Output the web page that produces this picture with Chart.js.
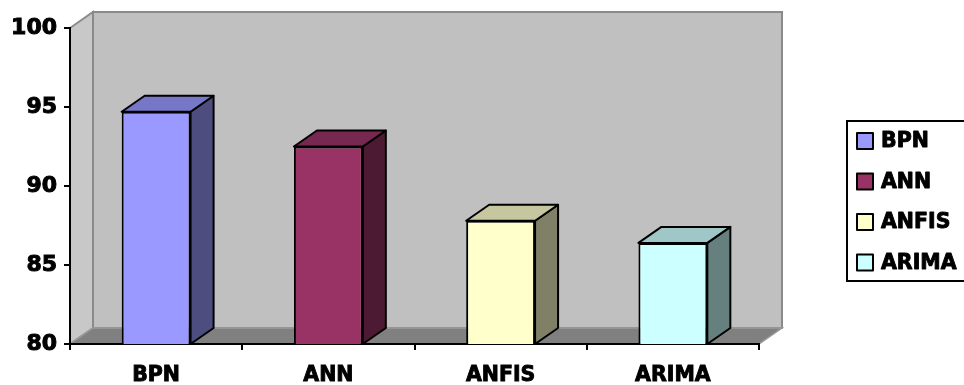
<!DOCTYPE html>
<html>
<head>
<meta charset="utf-8">
<script src="https://cdn.jsdelivr.net/npm/chart.js@4"></script>
<style>
  html, body { margin: 0; padding: 0; background: #ffffff; }
  #wrap { width: 964px; height: 385px; position: relative; }
</style>
</head>
<body>
<div id="wrap"><canvas id="chart" width="964" height="385"></canvas></div>
<script>
// Forecast accuracy per model
const categories = ['BPN', 'ANN', 'ANFIS', 'ARIMA'];
const accuracy = [94.7, 92.5, 87.8, 86.4];
const yTickValues = [80, 85, 90, 95, 100];

// Face colours of each column
const frontColors = ['#9999FF', '#993366', '#FFFFCC', '#CCFFFF'];

const FONT = "'DejaVu Sans', Verdana, sans-serif";
const DEPTH_X = 23;   // horizontal shift of the 3D depth
const DEPTH_Y = 16;   // vertical shift of the 3D depth

function shade(hex, f) {
  const n = parseInt(hex.slice(1), 16);
  const r = Math.round(((n >> 16) & 255) * f);
  const g = Math.round(((n >> 8) & 255) * f);
  const b = Math.round((n & 255) * f);
  return `rgb(${r},${g},${b})`;
}

function poly(ctx, pts, fill, stroke, lw) {
  ctx.beginPath();
  ctx.moveTo(pts[0][0], pts[0][1]);
  for (let i = 1; i < pts.length; i++) ctx.lineTo(pts[i][0], pts[i][1]);
  ctx.closePath();
  if (fill) { ctx.fillStyle = fill; ctx.fill(); }
  if (stroke) { ctx.strokeStyle = stroke; ctx.lineWidth = lw; ctx.stroke(); }
}

// Walls and floor of the 3D box, drawn beneath the axes
const box3d = {
  id: 'box3d',
  beforeDraw(chart) {
    const { ctx, chartArea: { left, right, top, bottom } } = chart;
    ctx.save();
    ctx.lineJoin = 'miter';
    // side wall
    poly(ctx, [[left, top], [left + DEPTH_X, top - DEPTH_Y], [left + DEPTH_X, bottom - DEPTH_Y], [left, bottom]],
      '#C8C8C8', '#8C8C8C', 2);
    // back wall
    poly(ctx, [[left + DEPTH_X, top - DEPTH_Y], [right + DEPTH_X, top - DEPTH_Y],
               [right + DEPTH_X, bottom - DEPTH_Y], [left + DEPTH_X, bottom - DEPTH_Y]],
      '#C0C0C0', '#8A8A8A', 2);
    // floor
    poly(ctx, [[left, bottom], [right, bottom], [right + DEPTH_X, bottom - DEPTH_Y], [left + DEPTH_X, bottom - DEPTH_Y]],
      '#808080', '#9A9A9A', 1.5);
    ctx.restore();
  },
  // top and side faces of every column
  afterDatasetsDraw(chart) {
    const { ctx, chartArea } = chart;
    const meta = chart.getDatasetMeta(0);
    ctx.save();
    ctx.lineJoin = 'round';
    meta.data.forEach((bar, i) => {
      const p = bar.getProps(['x', 'y', 'base', 'width'], true);
      const l = p.x - p.width / 2, r = p.x + p.width / 2;
      const t = p.y, b = Math.min(p.base, chartArea.bottom);
      const c = frontColors[i];
      poly(ctx, [[r, t], [r + DEPTH_X, t - DEPTH_Y], [r + DEPTH_X, b - DEPTH_Y], [r, b]], shade(c, 0.5), '#000', 2);
      poly(ctx, [[l, t], [l + DEPTH_X, t - DEPTH_Y], [r + DEPTH_X, t - DEPTH_Y], [r, t]], shade(c, 0.78), '#000', 2);
    });
    ctx.restore();
  },
  // boxed legend on the right
  afterDraw(chart) {
    const { ctx } = chart;
    ctx.save();
    ctx.strokeStyle = '#000';
    ctx.lineWidth = 2;
    ctx.strokeRect(847, 121, 140, 160);
    ctx.font = `bold 20.5px ${FONT}`;
    ctx.textBaseline = 'middle';
    ctx.textAlign = 'left';
    ctx.lineJoin = 'round';
    categories.forEach((name, i) => {
      const cy = 141 + i * 40.5;
      ctx.fillStyle = frontColors[i];
      ctx.fillRect(857, cy - 8, 16, 16);
      ctx.strokeStyle = '#000';
      ctx.lineWidth = 2;
      ctx.strokeRect(857, cy - 8, 16, 16);
      ctx.fillStyle = '#000';
      ctx.lineWidth = 0.9;
      ctx.strokeText(name, 881, cy + 1);
      ctx.fillText(name, 881, cy + 1);
    });
    ctx.restore();
  }
};

new Chart(document.getElementById('chart'), {
  type: 'bar',
  data: {
    labels: categories,
    datasets: [{
      data: accuracy,
      backgroundColor: frontColors,
      borderColor: '#000000',
      borderWidth: 2,
      borderSkipped: false,
      barPercentage: 0.4,
      categoryPercentage: 1.0
    }]
  },
  options: {
    responsive: false,
    animation: false,
    devicePixelRatio: 1,
    layout: { padding: { top: 28, right: 205, left: 0, bottom: 0 } },
    plugins: { legend: { display: false }, tooltip: { enabled: false } },
    scales: {
      x: {
        afterFit(scale) { scale.height = 41; },
        grid: {
          display: true, drawOnChartArea: false, drawTicks: true, tickLength: 6, lineWidth: 2, offset: true,
          color: (c) => (c.index === categories.length ? 'rgba(0,0,0,0)' : '#000')
        },
        border: { display: true, color: '#000', width: 2 },
        ticks: {
          color: '#000', font: { family: FONT, size: 20.5, weight: 'bold' }, padding: 13,
          textStrokeColor: '#000', textStrokeWidth: 0.9
        }
      },
      y: {
        min: 80,
        max: 100,
        afterFit(scale) { scale.width = 70; },
        afterBuildTicks(scale) { scale.ticks = yTickValues.map(v => ({ value: v })); },
        grid: { display: true, drawOnChartArea: false, drawTicks: true, tickLength: 6, color: '#000', lineWidth: 2 },
        border: { display: true, color: '#000', width: 2 },
        ticks: {
          color: '#000', font: { family: FONT, size: 22, weight: 'bold' }, padding: 7,
          textStrokeColor: '#000', textStrokeWidth: 1
        }
      }
    }
  },
  plugins: [box3d]
});
</script>
</body>
</html>
